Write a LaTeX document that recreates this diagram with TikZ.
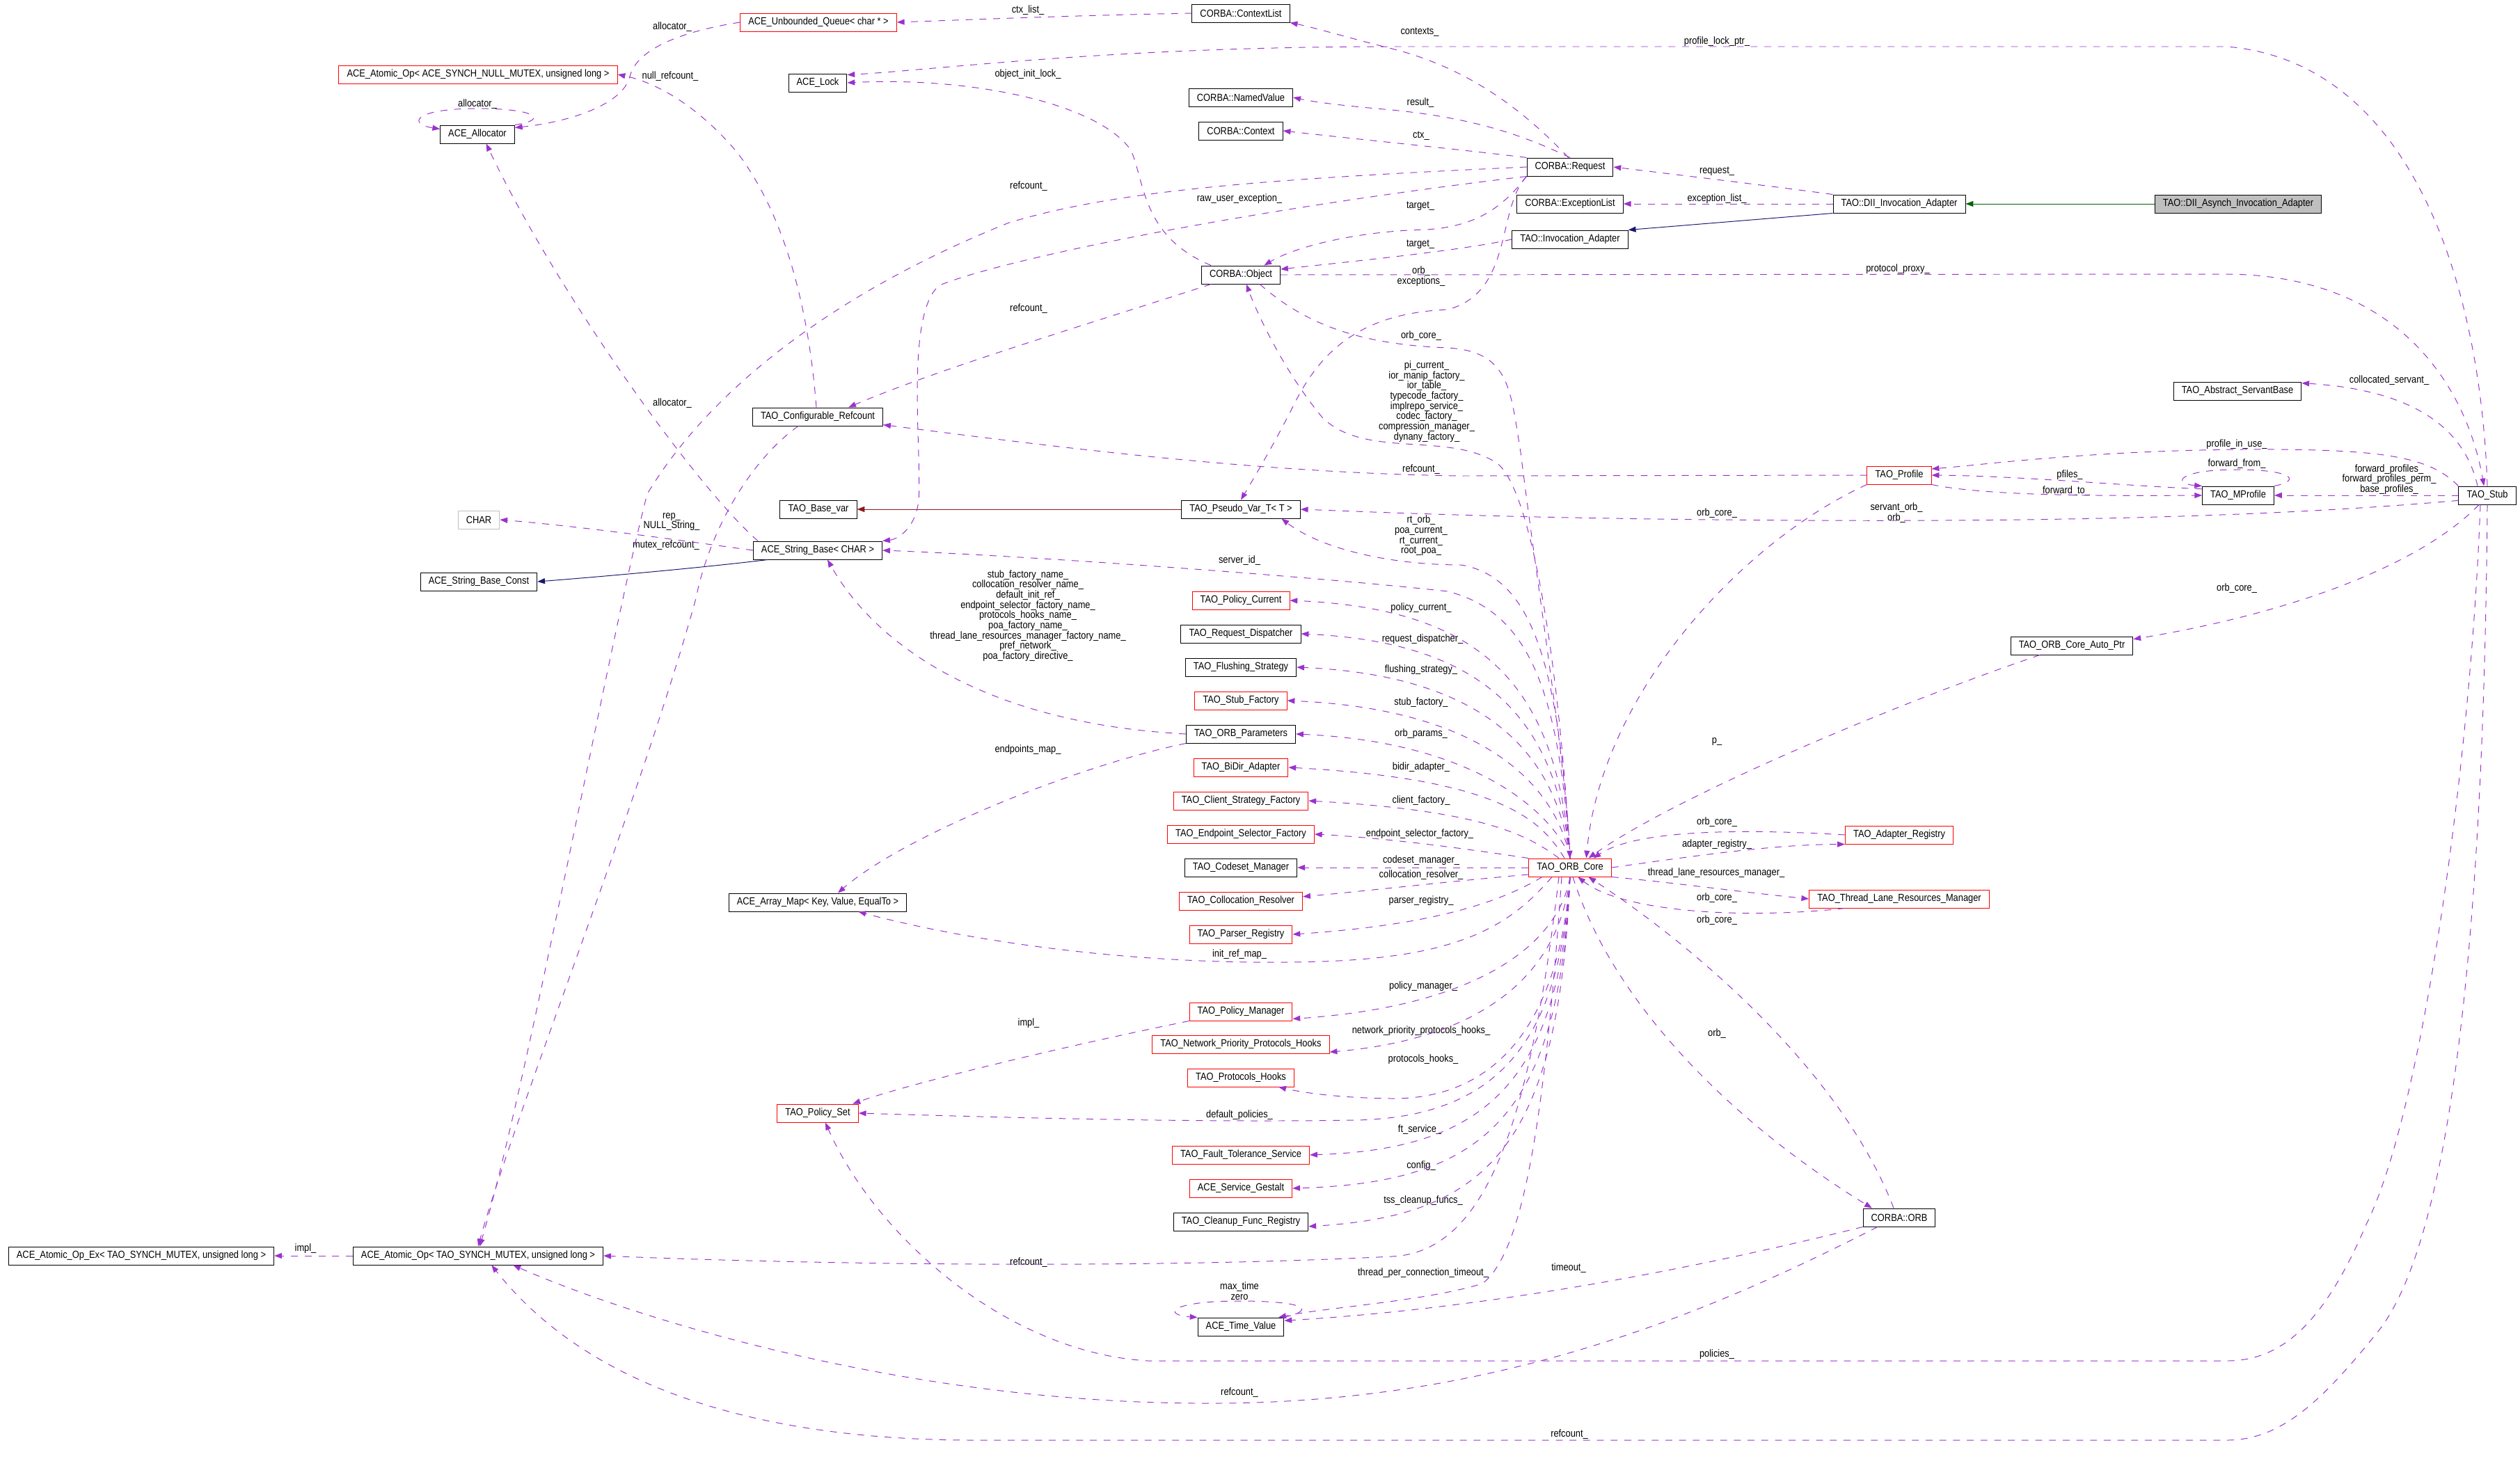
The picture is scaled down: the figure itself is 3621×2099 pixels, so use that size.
\documentclass[tikz,border=0pt]{standalone}
\usepackage{fontspec}
\setmainfont{Liberation Sans}[FakeStretch=0.87]
\usetikzlibrary{arrows.meta}
\definecolor{edgepurple}{HTML}{9A32CD}
\definecolor{inhnavy}{HTML}{191970}
\definecolor{inhgreen}{HTML}{006400}
\definecolor{tmplred}{HTML}{8B1A1A}
\definecolor{boxgray}{HTML}{BFBFBF}

\begin{document}
\begin{tikzpicture}[x=0.025cm,y=-0.025cm,
    font=\fontsize{10.5}{10.4}\selectfont,
    cls/.style={rectangle,draw=black,line width=0.7pt,minimum height=0.65cm,inner xsep=0.29cm,inner ysep=0pt},
    undoc/.style={cls,draw=red},
    extcls/.style={cls,draw=boxgray},
    focus/.style={cls,fill=boxgray},
    lbl/.style={align=center,inner sep=0pt},
    usage/.style={draw=edgepurple,line width=0.7pt,dash pattern=on 7pt off 7pt,-{Triangle[length=0.27cm,width=0.2cm,fill=edgepurple]}},
    pubinh/.style={draw=inhnavy,line width=0.7pt,-{Triangle[length=0.27cm,width=0.2cm,fill=inhnavy]}},
    prvinh/.style={draw=inhgreen,line width=0.7pt,-{Triangle[length=0.27cm,width=0.2cm,fill=inhgreen]}},
    tmplinst/.style={draw=tmplred,line width=0.7pt,-{Triangle[length=0.27cm,width=0.2cm,fill=tmplred]}}]
\useasboundingbox (0,0) rectangle (3621,2099);

\node[cls] (opex) at (203,1805) {ACE\_Atomic\_Op\_Ex< TAO\_SYNCH\_MUTEX, unsigned long >};
\node[cls] (opmutex) at (687,1805) {ACE\_Atomic\_Op< TAO\_SYNCH\_MUTEX, unsigned long >};
\node[undoc] (opnull) at (687,107) {ACE\_Atomic\_Op< ACE\_SYNCH\_NULL\_MUTEX, unsigned long >};
\node[cls] (alloc) at (686,193) {ACE\_Allocator};
\node[extcls] (chr) at (688,747) {CHAR};
\node[cls] (sbconst) at (688,836) {ACE\_String\_Base\_Const};

\node[undoc] (uqueue) at (1176,32) {ACE\_Unbounded\_Queue< char * >};
\node[cls] (lock) at (1175,119) {ACE\_Lock};
\node[cls] (cfgref) at (1175,599) {TAO\_Configurable\_Refcount};
\node[cls] (basevar) at (1176,732) {TAO\_Base\_var};
\node[cls] (strbase) at (1175,791) {ACE\_String\_Base< CHAR >};
\node[cls] (arrmap) at (1175,1297) {ACE\_Array\_Map< Key, Value, EqualTo >};
\node[undoc] (polset) at (1175,1600) {TAO\_Policy\_Set};

\node[cls] (ctxlist) at (1783,19) {CORBA::ContextList};
\node[cls] (namedval) at (1783,140) {CORBA::NamedValue};
\node[cls] (ctx) at (1783,188) {CORBA::Context};
\node[cls] (obj) at (1783,395) {CORBA::Object};
\node[cls] (pseudo) at (1783,732) {TAO\_Pseudo\_Var\_T< T >};
\node[undoc] (polcur) at (1783,863) {TAO\_Policy\_Current};
\node[cls] (reqdisp) at (1783,911) {TAO\_Request\_Dispatcher};
\node[cls] (flush) at (1783,959) {TAO\_Flushing\_Strategy};
\node[undoc] (stubfac) at (1783,1007) {TAO\_Stub\_Factory};
\node[cls] (orbpar) at (1783,1055) {TAO\_ORB\_Parameters};
\node[undoc] (bidir) at (1783,1103) {TAO\_BiDir\_Adapter};
\node[undoc] (clistrat) at (1783,1151) {TAO\_Client\_Strategy\_Factory};
\node[undoc] (epsel) at (1783,1199) {TAO\_Endpoint\_Selector\_Factory};
\node[cls] (codeset) at (1783,1247) {TAO\_Codeset\_Manager};
\node[undoc] (colres) at (1783,1295) {TAO\_Collocation\_Resolver};
\node[undoc] (parser) at (1783,1343) {TAO\_Parser\_Registry};
\node[undoc] (polman) at (1783,1454) {TAO\_Policy\_Manager};
\node[undoc] (netprio) at (1783,1501) {TAO\_Network\_Priority\_Protocols\_Hooks};
\node[undoc] (prothooks) at (1783,1549) {TAO\_Protocols\_Hooks};
\node[undoc] (ftserv) at (1783,1660) {TAO\_Fault\_Tolerance\_Service};
\node[undoc] (gestalt) at (1783,1708) {ACE\_Service\_Gestalt};
\node[cls] (cleanup) at (1783,1756) {TAO\_Cleanup\_Func\_Registry};
\node[cls] (timeval) at (1783,1907) {ACE\_Time\_Value};

\node[cls] (request) at (2256,240) {CORBA::Request};
\node[cls] (exclist) at (2256,293) {CORBA::ExceptionList};
\node[cls] (invad) at (2256,344) {TAO::Invocation\_Adapter};
\node[undoc] (core) at (2256,1247) {TAO\_ORB\_Core};

\node[cls] (dii) at (2729,293) {TAO::DII\_Invocation\_Adapter};
\node[undoc] (profile) at (2729,683) {TAO\_Profile};
\node[undoc] (adreg) at (2729,1200) {TAO\_Adapter\_Registry};
\node[undoc] (tlrm) at (2729,1292) {TAO\_Thread\_Lane\_Resources\_Manager};
\node[cls] (orb) at (2729,1750) {CORBA::ORB};
\node[cls] (autoptr) at (2977,928) {TAO\_ORB\_Core\_Auto\_Ptr};

\node[focus] (asynch) at (3216,293) {TAO::DII\_Asynch\_Invocation\_Adapter};
\node[cls] (servant) at (3215,562) {TAO\_Abstract\_ServantBase};
\node[cls] (mprofile) at (3216,712) {TAO\_MProfile};
\node[cls] (stub) at (3574,712) {TAO\_Stub};

% labels
\node[lbl] (limpl) at (439,1795) {impl\_};
\node[lbl] (lctxlist) at (1477,15) {ctx\_list\_};
\node[lbl] (lallocq) at (966,39) {allocator\_};
\node[lbl] (lallocs) at (686,150) {allocator\_};
\node[lbl] (lnullref) at (963,110) {null\_refcount\_};
\node[lbl] (lallocb) at (966,580) {allocator\_};
\node[lbl] (lrep) at (965,750) {rep\_\\NULL\_String\_};
\node[lbl] (lmutexref) at (957,784) {mutex\_refcount\_};
\node[lbl] (lobjlock) at (1477,107) {object\_init\_lock\_};
\node[lbl] (lreqref) at (1478,268) {refcount\_};
\node[lbl] (lraw) at (1781,286) {raw\_user\_exception\_};
\node[lbl] (lobjref) at (1478,444) {refcount\_};
\node[lbl] (lcontexts) at (2040,46) {contexts\_};
\node[lbl] (lproflock) at (2467,60) {profile\_lock\_ptr\_};
\node[lbl] (lresult) at (2041,148) {result\_};
\node[lbl] (lctx) at (2042,195) {ctx\_};
\node[lbl] (lrequest) at (2467,246) {request\_};
\node[lbl] (lexclist) at (2467,286) {exception\_list\_};
\node[lbl] (ltargetr) at (2041,296) {target\_};
\node[lbl] (ltargeti) at (2041,351) {target\_};
\node[lbl] (lorbexc) at (2042,397) {orb\_\\exceptions\_};
\node[lbl] (lprotproxy) at (2727,387) {protocol\_proxy\_};
\node[lbl] (lobjcore) at (2042,483) {orb\_core\_};
\node[lbl] (lpicur) at (2050,577) {pi\_current\_\\ior\_manip\_factory\_\\ior\_table\_\\typecode\_factory\_\\implrepo\_service\_\\codec\_factory\_\\compression\_manager\_\\dynany\_factory\_};
\node[lbl] (lprofref) at (2042,675) {refcount\_};
\node[lbl] (lpfiles) at (2974,683) {pfiles\_};
\node[lbl] (lfwdto) at (2969,706) {forward\_to\_};
\node[lbl] (lcollserv) at (3433,547) {collocated\_servant\_};
\node[lbl] (lprofuse) at (3214,639) {profile\_in\_use\_};
\node[lbl] (lfwdfrom) at (3214,667) {forward\_from\_};
\node[lbl] (lfwdprof) at (3433,689) {forward\_profiles\_\\forward\_profiles\_perm\_\\base\_profiles\_};
\node[lbl] (lrtorb) at (2042,770) {rt\_orb\_\\poa\_current\_\\rt\_current\_\\root\_poa\_};
\node[lbl] (lprofcore) at (2467,738) {orb\_core\_};
\node[lbl] (lservorb) at (2725,737) {servant\_orb\_\\orb\_};
\node[lbl] (lautoptr) at (3214,846) {orb\_core\_};
\node[lbl] (lserverid) at (1781,806) {server\_id\_};
\node[lbl] (lnames) at (1477,885) {stub\_factory\_name\_\\collocation\_resolver\_name\_\\default\_init\_ref\_\\endpoint\_selector\_factory\_name\_\\protocols\_hooks\_name\_\\poa\_factory\_name\_\\thread\_lane\_resources\_manager\_factory\_name\_\\pref\_network\_\\poa\_factory\_directive\_};
\node[lbl] (lpolcur) at (2042,874) {policy\_current\_};
\node[lbl] (lreqdisp) at (2044,919) {request\_dispatcher\_};
\node[lbl] (lflush) at (2042,963) {flushing\_strategy\_};
\node[lbl] (lstubfac) at (2042,1010) {stub\_factory\_};
\node[lbl] (lorbpar) at (2042,1055) {orb\_params\_};
\node[lbl] (lbidir) at (2042,1103) {bidir\_adapter\_};
\node[lbl] (lclifac) at (2042,1151) {client\_factory\_};
\node[lbl] (lepsel) at (2040,1199) {endpoint\_selector\_factory\_};
\node[lbl] (lcodeset) at (2042,1237) {codeset\_manager\_};
\node[lbl] (lcolres) at (2042,1258) {collocation\_resolver\_};
\node[lbl] (lparser) at (2042,1295) {parser\_registry\_};
\node[lbl] (lendpmap) at (1477,1078) {endpoints\_map\_};
\node[lbl] (lp) at (2467,1066) {p\_};
\node[lbl] (ladregcore) at (2467,1182) {orb\_core\_};
\node[lbl] (ladreg) at (2467,1214) {adapter\_registry\_};
\node[lbl] (ltlrm) at (2466,1255) {thread\_lane\_resources\_manager\_};
\node[lbl] (ltlrmcore) at (2467,1291) {orb\_core\_};
\node[lbl] (lorbcore) at (2467,1323) {orb\_core\_};
\node[lbl] (linitref) at (1781,1372) {init\_ref\_map\_};
\node[lbl] (lpolman) at (2045,1418) {policy\_manager\_};
\node[lbl] (limplpol) at (1478,1471) {impl\_};
\node[lbl] (lnetprio) at (2042,1482) {network\_priority\_protocols\_hooks\_};
\node[lbl] (lprothooks) at (2045,1523) {protocols\_hooks\_};
\node[lbl] (lorb) at (2467,1486) {orb\_};
\node[lbl] (ldefpol) at (1781,1603) {default\_policies\_};
\node[lbl] (lft) at (2040,1624) {ft\_service\_};
\node[lbl] (lconfig) at (2042,1676) {config\_};
\node[lbl] (ltss) at (2045,1726) {tss\_cleanup\_funcs\_};
\node[lbl] (lcoreref) at (1478,1815) {refcount\_};
\node[lbl] (ltpct) at (2045,1830) {thread\_per\_connection\_timeout\_};
\node[lbl] (lmaxtime) at (1781,1856) {max\_time\\zero};
\node[lbl] (ltimeout) at (2254,1823) {timeout\_};
\node[lbl] (lpolicies) at (2467,1947) {policies\_};
\node[lbl] (lorbref) at (1781,2002) {refcount\_};
\node[lbl] (lstubref) at (2255,2062) {refcount\_};

% inheritance
\draw[prvinh] (asynch.west) -- (dii.east);
\draw[pubinh] (dii.south west) -- (invad.north east);
\draw[pubinh] ([xshift=-1.8cm]strbase.south) .. controls (1000,817) and (850,830) .. (sbconst.east);
\draw[tmplinst] (pseudo.west) -- (basevar.east);

% left part
\draw[usage] (opmutex.west) -- (opex.east);
\draw[usage] (ctxlist.west) .. controls (1550,22) and (1400,28) .. (uqueue.east);
\draw[usage] (uqueue.west) .. controls (980,45) and (915,70) .. (905,110) .. controls (895,150) and (820,175) .. (alloc.10);
\draw[usage] (alloc.north east) .. controls (790,172) and (770,156) .. (686,156) .. controls (595,156) and (585,178) .. (alloc.172);
\draw[usage] ([xshift=-0.05cm]cfgref.north) .. controls (1160,420) and (1120,300) .. (1060,220) .. controls (1010,160) and (950,120) .. (opnull.east);
\draw[usage] ([xshift=-0.7cm]cfgref.south) .. controls (1080,660) and (1020,760) .. (1000,860) .. controls (920,1150) and (740,1600) .. (opmutex.north);
\draw[usage] ([xshift=-2.15cm]strbase.north) .. controls (1000,700) and (800,420) .. (alloc.-47);
\draw[usage] (strbase.west) .. controls (1000,780) and (850,758) .. (chr.east);

% CORBA::Request
\draw[usage] (request.west) .. controls (1800,258) and (1600,275) .. (1450,320) .. controls (1200,420) and (1020,560) .. (930,710) .. controls (880,900) and (760,1550) .. ([xshift=0.06cm]opmutex.north);
\draw[usage] (request.south west) .. controls (1800,300) and (1450,370) .. (1350,410) .. controls (1300,450) and (1325,650) .. (1320,720) .. controls (1315,760) and (1290,775) .. (strbase.north east);
\draw[usage] (request.south west) .. controls (2165,290) and (2130,325) .. (2050,330) .. controls (1950,332) and (1860,355) .. (obj.22);
\draw[usage] (request.south west) .. controls (2150,300) and (2175,420) .. (2080,445) .. controls (1960,450) and (1900,500) .. (1860,580) .. controls (1830,640) and (1800,690) .. (pseudo.north);
\draw[usage] (request.100) .. controls (2200,170) and (2120,100) .. (2000,70) .. controls (1940,55) and (1890,40) .. (ctxlist.south east);
\draw[usage] (request.north) .. controls (2190,195) and (2120,170) .. (2000,158) .. controls (1930,152) and (1890,147) .. (namedval.east);
\draw[usage] (request.north west) .. controls (2100,215) and (1950,200) .. (ctx.east);
\draw[usage] (dii.north west) .. controls (2550,268) and (2400,250) .. (request.east);
\draw[usage] (dii.west) -- (exclist.east);
\draw[usage] (invad.west) .. controls (2100,360) and (1950,375) .. (obj.8);

% CORBA::Object
\draw[usage] ([xshift=-1.07cm]obj.north) .. controls (1640,340) and (1645,260) .. (1625,216) .. controls (1580,150) and (1400,110) .. (lock.east);
\draw[usage] ([xshift=-1.07cm]obj.south) .. controls (1550,470) and (1350,530) .. (cfgref.17);
\draw[usage] ([xshift=0.68cm]obj.south) .. controls (1880,470) and (1960,495) .. (2080,500) .. controls (2170,505) and (2170,560) .. (2185,650) .. controls (2210,850) and (2250,1100) .. (core.north);
\draw[usage] (obj.east) -- (3200,394) .. controls (3450,396) and (3545,560) .. ([xshift=-0.12cm]stub.north);

% TAO_Stub
\draw[usage] (stub.north) .. controls (3565,420) and (3470,90) .. (3200,67) -- (2000,67) .. controls (1600,67) and (1350,100) .. (lock.15);
\draw[usage] ([xshift=-0.35cm]stub.north) .. controls (3540,610) and (3460,560) .. (servant.7);
\draw[usage] (stub.north west) .. controls (3490,655) and (3420,645) .. (3222,646) .. controls (3000,648) and (2850,668) .. (profile.11);
\draw[usage] (stub.west) -- (mprofile.east);
\draw[usage] (stub.190) .. controls (3300,740) and (3000,750) .. (2600,748) .. controls (2200,746) and (2000,737) .. (pseudo.east);
\draw[usage] ([xshift=-0.3cm]stub.south) .. controls (3480,810) and (3300,880) .. (autoptr.6);
\draw[usage] ([xshift=-0.25cm]stub.south) .. controls (3550,1100) and (3480,1600) .. (3400,1760) .. controls (3340,1900) and (3280,1956) .. (3200,1956) -- (1650,1956) .. controls (1450,1945) and (1260,1780) .. (polset.-51);
\draw[usage] (stub.south) .. controls (3570,1200) and (3540,1750) .. (3420,1910) .. controls (3340,2010) and (3280,2070) .. (3200,2070) -- (1400,2070) .. controls (1100,2070) and (850,2000) .. (opmutex.-35);

% profiles
\draw[usage] (mprofile.north east) .. controls (3310,690) and (3290,675) .. (3214,675) .. controls (3130,675) and (3120,695) .. (mprofile.north west);
\draw[usage] (mprofile.170) .. controls (3050,698) and (2900,684) .. (profile.east);
\draw[usage] (profile.south east) .. controls (2850,712) and (3000,713) .. (mprofile.west);
\draw[usage] (profile.west) -- (2100,684) .. controls (1800,680) and (1500,640) .. (cfgref.-7);
\draw[usage] (profile.south west) .. controls (2500,780) and (2300,1000) .. (core.30);
\draw[usage] ([xshift=-1.15cm]autoptr.south) .. controls (2700,1020) and (2400,1150) .. (core.27);

% TAO_ORB_Core, upper members
\draw[usage] (core.north) .. controls (2240,950) and (2200,700) .. (2150,665) .. controls (2080,620) and (1960,660) .. (1900,600) .. controls (1850,540) and (1810,460) .. (obj.-60);
\draw[usage] (core.north) .. controls (2240,950) and (2200,830) .. (2100,812) .. controls (2000,812) and (1900,790) .. (pseudo.-13);
\draw[usage] (core.north) .. controls (2240,1000) and (2200,880) .. (2080,850) .. controls (1900,830) and (1500,800) .. (strbase.east);
\draw[usage] (core.north) .. controls (2235,983) and (2130,875) .. (polcur.east);
\draw[usage] (core.north) .. controls (2235,1031) and (2130,923) .. (reqdisp.east);
\draw[usage] (core.north) .. controls (2235,1079) and (2130,971) .. (flush.east);
\draw[usage] (core.north) .. controls (2235,1127) and (2130,1019) .. (stubfac.east);
\draw[usage] (core.north) .. controls (2235,1175) and (2130,1067) .. (orbpar.east);
\draw[usage] ([xshift=-0.2cm]core.north) .. controls (2215,1180) and (2160,1120) .. (bidir.east);
\draw[usage] ([xshift=-0.4cm]core.north) .. controls (2195,1200) and (2130,1165) .. (clistrat.east);
\draw[usage] (core.north west) .. controls (2120,1222) and (2000,1205) .. (epsel.east);
\draw[usage] (core.west) -- (codeset.east);
\draw[usage] ([yshift=-0.25cm]core.west) .. controls (2100,1265) and (1950,1282) .. (colres.4);
\draw[usage] ([xshift=-1cm]core.south) .. controls (2150,1300) and (2050,1330) .. (parser.east);
\draw[usage] ([xshift=-0.65cm]core.south) .. controls (2170,1330) and (2100,1375) .. (1900,1382) .. controls (1650,1390) and (1400,1355) .. (arrmap.-13);

% TAO_ORB_Parameters
\draw[usage] (orbpar.west) .. controls (1420,1040) and (1260,930) .. (strbase.-44);
\draw[usage] (orbpar.south west) .. controls (1550,1100) and (1300,1200) .. (arrmap.25);

% TAO_ORB_Core, lower members
\draw[usage] (core.south) .. controls (2240,1354) and (2130,1446) .. (polman.-8);
\draw[usage] (core.south) .. controls (2240,1401) and (2130,1493) .. (netprio.-5);
\draw[usage] (core.south) .. controls (2240,1470) and (2150,1580) .. (2000,1579) .. controls (1920,1578) and (1870,1570) .. (prothooks.-14);
\draw[usage] (core.south) .. controls (2240,1500) and (2150,1605) .. (1950,1610) .. controls (1700,1614) and (1400,1605) .. (polset.east);
\draw[usage] (core.south) .. controls (2240,1560) and (2130,1652) .. (ftserv.east);
\draw[usage] (core.south) .. controls (2240,1608) and (2130,1700) .. (gestalt.east);
\draw[usage] (core.south) .. controls (2240,1656) and (2130,1748) .. (cleanup.-4);
\draw[usage] ([xshift=-0.4cm]core.south) .. controls (2200,1600) and (2140,1800) .. (2000,1806) .. controls (1600,1826) and (1100,1815) .. (opmutex.east);
\draw[usage] ([xshift=-0.3cm]core.south) .. controls (2220,1600) and (2190,1800) .. (2130,1845) .. controls (2050,1870) and (1900,1880) .. (timeval.14);
\draw[usage] (polman.south west) .. controls (1500,1510) and (1300,1560) .. (polset.15);
\draw[usage] (timeval.north east) .. controls (1900,1880) and (1860,1870) .. (1781,1870) .. controls (1680,1870) and (1670,1890) .. (timeval.north west);

% registries and ORB
\draw[usage] (adreg.west) .. controls (2450,1188) and (2340,1200) .. (core.22);
\draw[usage] (core.east) .. controls (2450,1228) and (2550,1214) .. (adreg.south west);
\draw[usage] (core.south east) .. controls (2400,1268) and (2500,1282) .. (tlrm.west);
\draw[usage] ([xshift=-1.95cm]tlrm.south) .. controls (2500,1322) and (2330,1310) .. (core.-50);
\draw[usage] ([xshift=0.1cm]core.south) .. controls (2320,1450) and (2500,1620) .. (orb.161);
\draw[usage] ([xshift=-0.2cm]orb.north) .. controls (2650,1550) and (2450,1370) .. (core.-27);
\draw[usage] (orb.south west) .. controls (2450,1820) and (2150,1880) .. (timeval.8);
\draw[usage] ([xshift=-0.78cm]orb.south) .. controls (2450,1890) and (2150,2015) .. (1750,2017) .. controls (1300,2020) and (900,1890) .. (opmutex.-15);

\end{tikzpicture}
\end{document}
